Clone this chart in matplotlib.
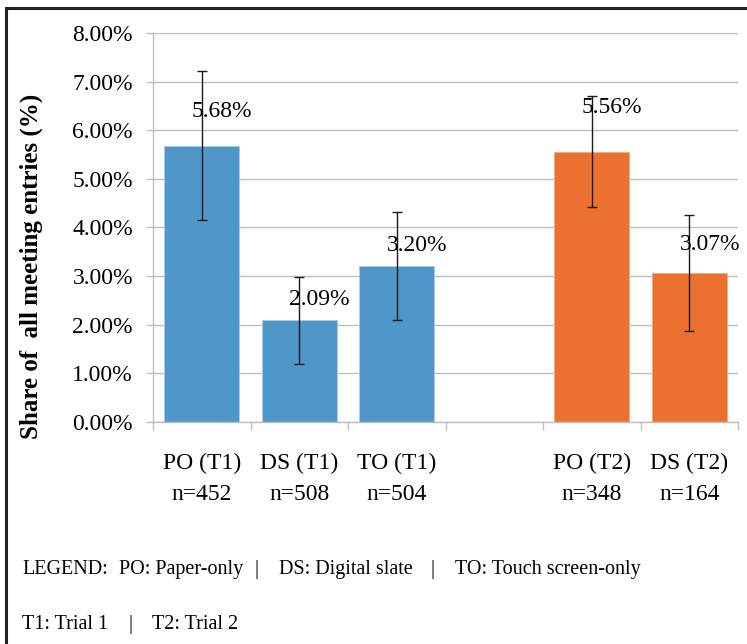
import matplotlib.pyplot as plt
from matplotlib.lines import Line2D

# data
categories = ['PO (T1)\nn=452', 'DS (T1)\nn=508', 'TO (T1)\nn=504', '',
              'PO (T2)\nn=348', 'DS (T2)\nn=164']
shares = [5.68, 2.09, 3.20, None, 5.56, 3.07]
errors = [1.53, 0.90, 1.11, None, 1.14, 1.19]
trials = ['T1', 'T1', 'T1', None, 'T2', 'T2']
trial_colors = {'T1': '#4F97C8', 'T2': '#EC7131'}

# label lift above each bar top (points) - the labels sit unevenly in the original
label_lift = [21, 11, 11, None, 28, 16]

legend_line1 = ['LEGEND:', 'PO: Paper-only', '|', 'DS: Digital slate', '|', 'TO: Touch screen-only']
legend_line2 = ['T1: Trial 1', '|', 'T2: Trial 2']

plt.rcParams['font.family'] = ['Liberation Serif', 'DejaVu Serif']

fig = plt.figure(figsize=(7.47, 6.44), dpi=100)
ax = fig.add_axes([0.2048, 0.3447, 0.7835, 0.6041])

grid_col = '#BFBFBF'
for i, (v, e, t) in enumerate(zip(shares, errors, trials)):
    if v is None:
        continue
    ax.bar(i, v, width=0.77, color=trial_colors[t], edgecolor='#A9CDE8' if t == 'T1' else '#F3A77E',
           linewidth=0.6, zorder=2)
    ax.errorbar(i, v, yerr=e, fmt='none', ecolor='#1a1a1a', elinewidth=1.0,
                capsize=3.3, capthick=1.0, zorder=3)
    ax.annotate(f'{v:.2f}%', (i, v), xytext=(14.5, label_lift[i]), textcoords='offset points',
                ha='center', va='baseline', fontsize=17, zorder=4)

ax.set_xlim(-0.5, len(categories) - 0.5)
ax.set_ylim(0, 8)
ax.set_yticks(range(0, 9))
ax.set_yticklabels([f'{y:.2f}%' for y in range(0, 9)], fontsize=17)
ax.yaxis.grid(True, color=grid_col, linewidth=1.0, zorder=0)
ax.set_axisbelow(True)

# boundaries get tick marks, centres carry labels
ax.set_xticks([i - 0.5 for i in range(len(categories) + 1)])
ax.set_xticklabels([])
ax.set_xticks(range(len(categories)), minor=True)
ax.set_xticklabels(categories, minor=True, fontsize=17, linespacing=1.62)
ax.tick_params(axis='x', which='major', length=6, color=grid_col, width=1.0, direction='out')
ax.tick_params(axis='x', which='minor', length=0, pad=22)
ax.tick_params(axis='y', length=5, color=grid_col, width=1.0, pad=9.4)

for s in ['top', 'right']:
    ax.spines[s].set_visible(False)
for s in ['left', 'bottom']:
    ax.spines[s].set_color(grid_col)
    ax.spines[s].set_linewidth(1.0)

fig.text(0.042, 0.587, 'Share of  all meeting entries (%)', rotation=90, ha='center', va='center',
         fontsize=18, fontweight='bold')

# legend text pieces, placed at the pixel columns seen in the original
W = 747.0
for txt, px in zip(legend_line1, [22, 119, 255, 279, 431, 455]):
    fig.text(px / W, 0.115, txt, fontsize=14.5, va='center', ha='left')
for txt, px in zip(legend_line2, [22, 128, 152]):
    fig.text(px / W, 0.031, txt, fontsize=14.5, va='center', ha='left')

# dark frame on the left and top of the picture
fig.add_artist(Line2D([0.008, 0.008], [0, 0.987], color='#222222', linewidth=2.2,
                      transform=fig.transFigure))
fig.add_artist(Line2D([0.008, 1.0], [0.987, 0.987], color='#222222', linewidth=2.2,
                      transform=fig.transFigure))

fig.savefig('out.png', dpi=100)
plt.close(fig)
